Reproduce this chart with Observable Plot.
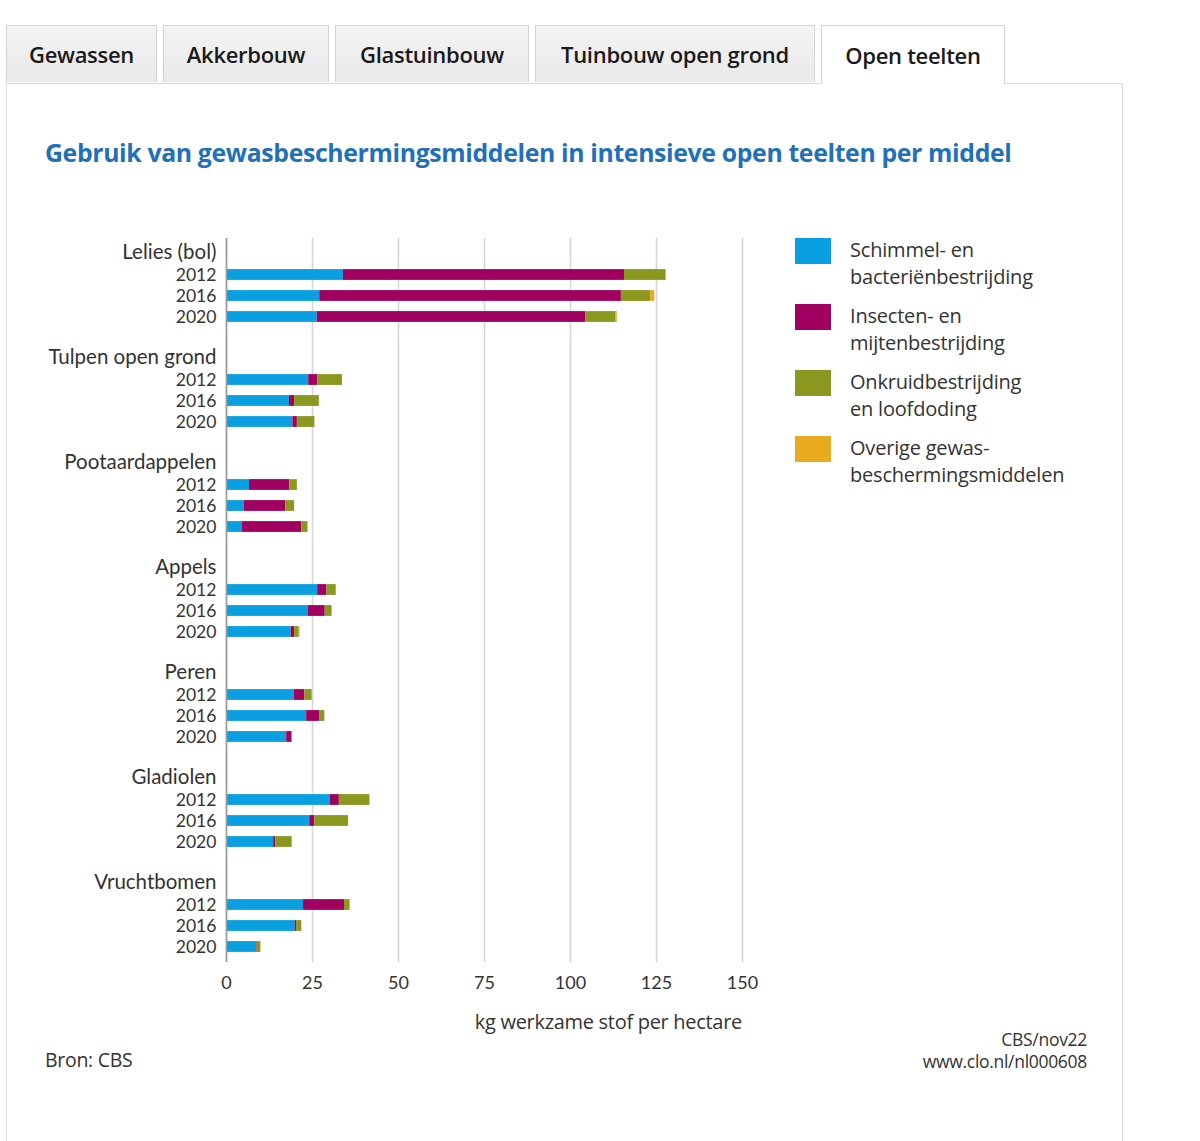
<!DOCTYPE html>
<html>
<head>
<meta charset="utf-8">
<script src="https://cdn.jsdelivr.net/npm/d3@7"></script>
<script src="https://cdn.jsdelivr.net/npm/@observablehq/plot@0.6"></script>
<style>
  html, body { margin: 0; padding: 0; background: #fff; }
  body { width: 1200px; height: 1141px; position: relative; overflow: hidden; font-family: "Open Sans", "Noto Sans", sans-serif; color: #333; }
  .tab { position: absolute; top: 25px; height: 57px; box-sizing: border-box; border: 1px solid #d4d4d4; border-bottom: none;
         background: linear-gradient(#f4f4f4, #e9e9e9); font-weight: 600; font-size: 22px; color: #1a1a1a;
         display: flex; align-items: center; justify-content: center; letter-spacing: -0.3px; }
  .tab.active { background: #fff; height: 59px; z-index: 2; }
  #panel { position: absolute; left: 6px; top: 83px; width: 1117px; height: 1100px; box-sizing: border-box; border: 1px solid #dcdcdc; }
  #title { position: absolute; left: 45px; top: 135px; font-size: 24.8px; font-weight: 700; color: #2170b8; letter-spacing: -0.35px; white-space: nowrap; }
  #chart { position: absolute; left: 0; top: 200px; }
  #legend { position: absolute; left: 795px; top: 238px; }
  .li { position: relative; height: 66px; }
  .sw { position: absolute; left: 0; top: 0; width: 36px; height: 26px; }
  .lt { position: absolute; left: 55px; top: -2px; font-size: 20px; line-height: 27px; color: #333; white-space: nowrap; letter-spacing: -0.2px; }
  #xlabel { position: absolute; right: calc(1200px - 742px); top: 1008px; font-size: 20px; color: #333; white-space: nowrap; letter-spacing: -0.3px; }
  #bron { position: absolute; left: 45px; top: 1046px; font-size: 19.5px; color: #333; letter-spacing: -0.3px; }
  #credit { position: absolute; right: calc(1200px - 1087px); top: 1028px; font-size: 17.5px; line-height: 22px; color: #333; text-align: right; letter-spacing: -0.3px; }
</style>
</head>
<body>
<div class="tab" style="left:6px;width:151px;">Gewassen</div>
<div class="tab" style="left:163px;width:166px;">Akkerbouw</div>
<div class="tab" style="left:335px;width:194px;">Glastuinbouw</div>
<div class="tab" style="left:535px;width:280px;">Tuinbouw open grond</div>
<div class="tab active" style="left:821px;width:184px;">Open teelten</div>
<div id="panel"></div>
<div id="title">Gebruik van gewasbeschermingsmiddelen in intensieve open teelten per middel</div>
<div id="chart"></div>
<div id="legend"></div>
<div id="xlabel">kg werkzame stof per hectare</div>
<div id="bron">Bron: CBS</div>
<div id="credit">CBS/nov22<br>www.clo.nl/nl000608</div>
<script>
// ---- Data ----
const groups = ["Lelies (bol)", "Tulpen open grond", "Pootaardappelen", "Appels", "Peren", "Gladiolen", "Vruchtbomen"];
const years = ["2012", "2016", "2020"];
const types = ["Schimmel- en bacteriënbestrijding", "Insecten- en mijtenbestrijding", "Onkruidbestrijding en loofdoding", "Overige gewasbeschermingsmiddelen"];
const legendLines = [["Schimmel- en", "bacteriënbestrijding"], ["Insecten- en", "mijtenbestrijding"], ["Onkruidbestrijding", "en loofdoding"], ["Overige gewas-", "beschermingsmiddelen"]];
const colors = ["#0a9fe0", "#a0005f", "#8b981f", "#e8ab20"];
// values ordered group by group, years 2012, 2016, 2020
const schimmel = [34.0, 27.1, 26.4, 23.9, 18.3, 19.3, 6.7, 5.1, 4.6, 26.5, 23.7, 18.8, 19.7, 23.3, 17.5, 30.2, 24.2, 13.7, 22.4, 20.0, 8.7];
const insecten = [81.7, 87.7, 78.0, 2.6, 1.5, 1.3, 11.7, 12.1, 17.3, 2.7, 5.0, 1.0, 3.1, 3.9, 1.5, 2.6, 1.5, 0.6, 11.9, 0.5, 0.2];
const onkruid  = [12.1, 8.5, 8.7, 7.2, 7.2, 5.1, 2.2, 2.6, 1.8, 2.7, 2.0, 1.3, 2.1, 1.4, 0.2, 8.9, 9.8, 4.8, 1.5, 1.4, 1.1];
const overige  = [0.1, 1.2, 0.5, 0, 0, 0, 0, 0, 0, 0, 0, 0.3, 0, 0, 0, 0, 0, 0, 0.3, 0, 0];
const xTicks = [0, 25, 50, 75, 100, 125, 150];

// ---- Build rows (header row per group, three year rows, a blank row between groups) ----
const rows = [];
const rowLabel = new Map();
groups.forEach((g, gi) => {
  if (gi > 0) { const k = "gap" + gi; rows.push(k); rowLabel.set(k, ""); }
  rows.push(g); rowLabel.set(g, "");
  years.forEach(y => { const k = g + "|" + y; rows.push(k); rowLabel.set(k, y); });
});
const series = [schimmel, insecten, onkruid, overige];
const data = [];
types.forEach((t, ti) => {
  groups.forEach((g, gi) => {
    years.forEach((y, yi) => {
      data.push({row: g + "|" + y, type: t, value: series[ti][gi * 3 + yi]});
    });
  });
});

const chart = Plot.plot({
  width: 800,
  height: 850,
  marginLeft: 226,
  marginRight: 58,
  marginTop: 38,
  marginBottom: 88,
  style: {fontFamily: "Lato, 'Open Sans', sans-serif", fontSize: "18px", color: "#333", background: "transparent"},
  x: {domain: [0, 150], ticks: xTicks, label: null},
  y: {type: "band", domain: rows, padding: 0, label: null},
  color: {domain: types, range: colors},
  marks: [
    Plot.gridX(xTicks, {stroke: "#d6d6d6", strokeOpacity: 1, strokeWidth: 1.6}),
    Plot.barX(data, Plot.stackX({y: "row", x: "value", fill: "type", insetTop: 5.1, insetBottom: 5.1, order: types})),
    Plot.ruleX([0], {stroke: "#9a9a9a", strokeWidth: 1.6}),
    Plot.axisX({ticks: xTicks, tickSize: 0, tickPadding: 14, label: null, fontSize: "18px"}),
    Plot.axisY({tickSize: 0, tickPadding: 10, tickFormat: d => rowLabel.get(d), label: null, fontSize: "17.6px"}),
    Plot.text(groups, {y: d => d, text: d => d, frameAnchor: "left", dx: -10, dy: -2, textAnchor: "end", fontSize: 20.5, fill: "#333"})
  ]
});
document.getElementById("chart").appendChild(chart);

// ---- Legend ----
const legend = document.getElementById("legend");
types.forEach((t, i) => {
  const item = document.createElement("div");
  item.className = "li";
  item.innerHTML = `<div class="sw" style="background:${colors[i]}"></div><div class="lt">${legendLines[i][0]}<br>${legendLines[i][1]}</div>`;
  legend.appendChild(item);
});
</script>
</body>
</html>
